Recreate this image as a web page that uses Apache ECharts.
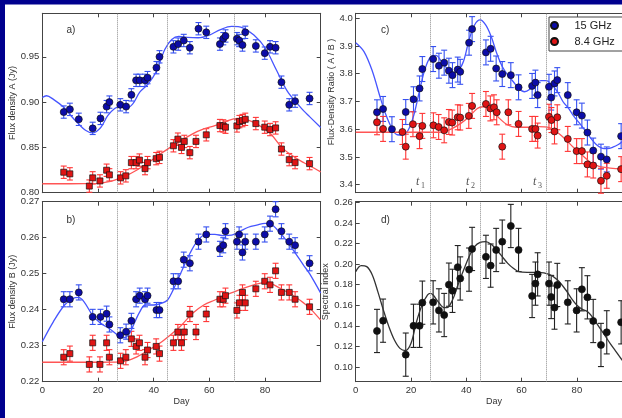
<!DOCTYPE html>
<html>
<head>
<meta charset="utf-8">
<script src="https://cdn.jsdelivr.net/npm/echarts@6/dist/echarts.min.js"></script>
<style>html,body{margin:0;padding:0;background:#fff}#c{width:622px;height:418px}</style>
</head>
<body>
<div id="c"></div>
<script>
// ---------- data ----------
const days15 = [7.7, 9.9, 13.1, 18.1, 20.9, 23.1, 24.1, 28.0, 30.1, 32.0, 33.7, 35.0, 36.9, 37.8, 41.0, 42.1, 47.1, 48.8, 50.8, 53.0, 56.1, 58.9, 63.8, 65.0, 65.8, 69.9, 70.7, 71.9, 72.9, 76.7, 79.9, 81.8, 83.8, 85.9, 88.7, 90.8, 96.0];
const days84 = [7.7, 9.9, 16.9, 18.1, 20.7, 23.1, 24.1, 28.1, 30.0, 32.0, 33.7, 34.9, 36.9, 37.8, 40.9, 42.1, 47.1, 48.7, 50.0, 51.0, 53.0, 55.2, 58.9, 63.8, 65.0, 65.8, 69.9, 70.8, 71.9, 72.9, 76.7, 79.9, 81.8, 83.8, 85.9, 88.7, 90.8, 96.0];

const fluxA15 = [0.889, 0.892, 0.881, 0.871, 0.882, 0.895, 0.900, 0.897, 0.895, 0.908, 0.924, 0.924, 0.924, 0.927, 0.938, 0.950, 0.961, 0.964, 0.968, 0.960, 0.981, 0.977, 0.964, 0.970, 0.973, 0.970, 0.968, 0.963, 0.977, 0.962, 0.954, 0.961, 0.960, 0.922, 0.897, 0.901, 0.904];
const fluxA84 = [0.8226, 0.8208, 0.8073, 0.8164, 0.813, 0.8248, 0.8197, 0.8164, 0.8186, 0.8332, 0.8332, 0.836, 0.8266, 0.8332, 0.8376, 0.839, 0.8518, 0.8591, 0.850, 0.8566, 0.8442, 0.8566, 0.8639, 0.8741, 0.8737, 0.8723, 0.8737, 0.8785, 0.8796, 0.881, 0.8763, 0.8723, 0.8697, 0.8715, 0.8482, 0.8365, 0.8332, 0.8321];
const fluxB15 = [0.2429, 0.2429, 0.2448, 0.2380, 0.2380, 0.2389, 0.2359, 0.2329, 0.2339, 0.2369, 0.2429, 0.2439, 0.2429, 0.2439, 0.2399, 0.2399, 0.2479, 0.2479, 0.2539, 0.2529, 0.2589, 0.2609, 0.2569, 0.2579, 0.2618, 0.2589, 0.2609, 0.2559, 0.2589, 0.2589, 0.2609, 0.2639, 0.2679, 0.2618, 0.2589, 0.2579, 0.2529];
const fluxB84 = [0.2268, 0.2278, 0.2248, 0.2308, 0.2248, 0.2308, 0.2268, 0.2258, 0.2268, 0.2319, 0.2298, 0.2308, 0.2268, 0.2288, 0.2298, 0.2278, 0.2308, 0.2338, 0.2308, 0.2338, 0.2388, 0.2338, 0.2388, 0.2429, 0.2429, 0.2439, 0.2398, 0.2419, 0.2448, 0.2419, 0.2458, 0.2479, 0.2469, 0.2508, 0.2448, 0.2448, 0.2429, 0.2408];
const ratio15 = [3.661, 3.673, 3.600, 3.662, 3.708, 3.747, 3.817, 3.853, 3.829, 3.840, 3.811, 3.795, 3.815, 3.807, 3.912, 3.961, 3.877, 3.890, 3.819, 3.799, 3.795, 3.751, 3.756, 3.768, 3.723, 3.753, 3.714, 3.765, 3.777, 3.723, 3.661, 3.649, 3.588, 3.523, 3.501, 3.491, 3.575];
const ratio84 = [3.625, 3.601, 3.590, 3.537, 3.618, 3.575, 3.612, 3.614, 3.608, 3.596, 3.626, 3.624, 3.643, 3.642, 3.648, 3.684, 3.691, 3.675, 3.679, 3.661, 3.537, 3.661, 3.619, 3.601, 3.601, 3.577, 3.645, 3.633, 3.592, 3.643, 3.565, 3.521, 3.521, 3.473, 3.469, 3.414, 3.432, 3.456];
const specDays = [7.7, 9.9, 18.1, 20.9, 23.1, 24.1, 28.0, 30.1, 32.0, 33.7, 35.0, 36.9, 37.8, 41.0, 42.1, 47.1, 48.8, 50.8, 53.0, 56.1, 58.9, 63.8, 65.0, 65.8, 69.9, 70.7, 71.9, 72.9, 76.7, 79.9, 81.8, 83.8, 85.9, 88.7, 90.8, 96.0];
const specIdx = [0.135, 0.145, 0.112, 0.140, 0.140, 0.1625, 0.1628, 0.155, 0.1505, 0.180, 0.174, 0.197, 0.186, 0.1946, 0.2147, 0.207, 0.1985, 0.2137, 0.2218, 0.237, 0.2137, 0.169, 0.181, 0.190, 0.181, 0.168, 0.1577, 0.1797, 0.1628, 0.155, 0.1755, 0.1677, 0.1447, 0.1214, 0.1337, 0.1434];

const errA = 0.0068, errB = 0.0021, errC = 0.045, errD = 0.021;

// fitted curves
const fitA15Days = [0, 1.5, 4, 7.8, 10, 13, 15.5, 18, 21, 23.5, 26, 28, 30, 32.5, 35, 38, 41, 44, 46.5, 49, 52, 56, 60, 64, 68, 72, 76, 80, 84, 88, 92, 94, 96, 100];
const fitA15 = [0.905, 0.907, 0.903, 0.894, 0.886, 0.876, 0.869, 0.866, 0.872, 0.885, 0.893, 0.895, 0.893, 0.898, 0.911, 0.920, 0.934, 0.958, 0.969, 0.9725, 0.9715, 0.971, 0.974, 0.980, 0.9835, 0.982, 0.974, 0.960, 0.936, 0.912, 0.897, 0.890, 0.884, 0.872];
const fitA84Days = [0, 10, 20, 22, 26, 30, 34, 38, 42, 46, 50, 54, 58, 62, 66, 70, 74, 78, 82, 86, 90, 94, 96, 100];
const fitA84 = [0.8099, 0.8099, 0.810, 0.811, 0.814, 0.8186, 0.825, 0.833, 0.842, 0.850, 0.8577, 0.865, 0.8704, 0.874, 0.8788, 0.882, 0.880, 0.874, 0.865, 0.850, 0.8405, 0.833, 0.8298, 0.823];
const fitB15Days = [0, 4, 8, 11, 13, 15, 18, 21, 24, 27, 29, 31, 33, 35, 37, 40, 43, 45, 47, 50, 53, 56, 59, 62, 65, 68, 71, 74, 77, 80, 82, 85, 88, 91, 94, 96, 100];
const fitB15 = [0.2311, 0.2367, 0.2413, 0.2431, 0.2434, 0.2422, 0.2385, 0.2362, 0.2348, 0.2330, 0.2322, 0.2330, 0.2362, 0.2394, 0.2413, 0.2413, 0.2418, 0.2427, 0.2455, 0.2506, 0.2556, 0.2594, 0.2609, 0.2609, 0.2606, 0.2607, 0.2618, 0.2629, 0.2635, 0.2640, 0.2638, 0.2617, 0.2589, 0.2556, 0.2522, 0.2500, 0.2446];
const fitB84Days = [0, 10, 20, 28, 30, 34, 38, 42, 46, 50, 54, 58, 62, 66, 70, 74, 78, 80, 82, 86, 90, 94, 96, 100];
const fitB84 = [0.2254, 0.2254, 0.2254, 0.2255, 0.2257, 0.2269, 0.2287, 0.2306, 0.2330, 0.2357, 0.2390, 0.2413, 0.2427, 0.2441, 0.2453, 0.2464, 0.2473, 0.2475, 0.2473, 0.2457, 0.2440, 0.2418, 0.2405, 0.2371];
const fitC15Days = [0, 3, 6, 9, 11, 13, 15, 17, 19, 21, 23, 25, 27, 29, 31, 33, 35, 37, 39, 41, 43, 45, 47, 49, 51, 53, 55, 57, 59, 61, 63, 65, 67, 69, 71, 73, 75, 77, 79, 81, 83, 85, 87, 89, 91, 93, 95, 97, 100];
const fitC15 = [3.912, 3.880, 3.810, 3.710, 3.650, 3.605, 3.580, 3.579, 3.597, 3.650, 3.735, 3.815, 3.860, 3.866, 3.845, 3.820, 3.805, 3.810, 3.845, 3.922, 3.976, 3.994, 3.976, 3.934, 3.874, 3.826, 3.795, 3.771, 3.747, 3.735, 3.744, 3.765, 3.775, 3.775, 3.759, 3.735, 3.699, 3.675, 3.645, 3.621, 3.595, 3.568, 3.545, 3.532, 3.530, 3.535, 3.545, 3.560, 3.590];
const fitC84Days = [0, 10, 20, 30, 32, 35, 38, 41, 44, 46, 48, 50, 52, 55, 58, 62, 66, 70, 73, 76, 79, 82, 85, 88, 92, 96, 100];
const fitC84 = [3.589, 3.589, 3.589, 3.589, 3.591, 3.603, 3.621, 3.645, 3.675, 3.681, 3.678, 3.663, 3.639, 3.615, 3.607, 3.607, 3.609, 3.606, 3.588, 3.562, 3.532, 3.505, 3.480, 3.466, 3.460, 3.458, 3.458];
const fitDDays = [0, 2, 4, 6, 8, 10, 12, 14, 16, 18, 20, 22, 24, 26, 27, 28, 30, 32, 33, 35, 37, 39, 41, 43, 45, 47, 49, 51, 53, 55, 57, 59, 62, 66, 70, 73, 76, 78, 80, 82, 84, 86, 88, 90, 92, 94, 96, 100];
const fitD = [0.1926, 0.1985, 0.1975, 0.1894, 0.1732, 0.1554, 0.1392, 0.1262, 0.1181, 0.1159, 0.123, 0.144, 0.1602, 0.170, 0.1716, 0.170, 0.1628, 0.1577, 0.1577, 0.165, 0.180, 0.194, 0.2072, 0.217, 0.2211, 0.2218, 0.2192, 0.2137, 0.2072, 0.2007, 0.1959, 0.1926, 0.192, 0.192, 0.190, 0.1845, 0.1748, 0.1667, 0.160, 0.156, 0.1535, 0.147, 0.139, 0.1311, 0.123, 0.1155, 0.108, 0.095];

const tDays = [27, 45, 69];
const xTicks = [0, 20, 40, 60, 80];
const yTicksA = [0.80, 0.85, 0.90, 0.95];
const yTicksB = [0.22, 0.23, 0.24, 0.25, 0.26, 0.27];
const yTicksC = [3.4, 3.5, 3.6, 3.7, 3.8, 3.9, 4.0];
const yTicksD = [0.10, 0.12, 0.14, 0.16, 0.18, 0.20, 0.22, 0.24, 0.26];

// ---------- styling ----------
const AX = '#444', TXT = '#333';
const BLUE_M = '#0c0ca8', BLUE_E = '#3550f0', BLUE_L = '#4655ff';
const RED_M = '#e01414', RED_E = '#ff3535', RED_L = '#ff5555';
const FONT = 'Liberation Sans, Arial, sans-serif';

const pairs = (xs, ys) => xs.map((x, i) => [x, ys[i]]);

function xAxes(g, withLabels) {
  const line = {show: true, onZero: false, lineStyle: {color: AX, width: 1}};
  return [
    {gridIndex: g, type: 'value', min: 0, max: 100, axisLine: line,
     axisTick: {show: true, inside: true, length: 4, customValues: xTicks, lineStyle: {color: AX}},
     axisLabel: {show: withLabels, customValues: xTicks, fontSize: 9.5, color: TXT, margin: 4, fontFamily: FONT},
     splitLine: {show: false},
     name: withLabels ? 'Day' : '', nameLocation: 'middle', nameGap: 15,
     nameTextStyle: {fontSize: 9, color: TXT, fontFamily: FONT}},
    {gridIndex: g, type: 'value', position: 'top', min: 0, max: 100, axisLine: line,
     axisTick: {show: true, inside: true, length: 4, customValues: xTicks, lineStyle: {color: AX}},
     axisLabel: {show: false}, splitLine: {show: false}}
  ];
}
function yAxes(g, min, max, ticks, dec, name, gap, pad) {
  const line = {show: true, onZero: false, lineStyle: {color: AX, width: 1}};
  return [
    {gridIndex: g, type: 'value', min: min, max: max, axisLine: line,
     axisTick: {show: true, inside: true, length: 4, customValues: ticks, lineStyle: {color: AX}},
     axisLabel: {customValues: ticks, formatter: v => v.toFixed(dec), fontSize: 9.5, color: TXT, margin: 3, fontFamily: FONT},
     splitLine: {show: false},
     name: name, nameLocation: 'middle', nameGap: gap,
     nameTextStyle: {fontSize: 9, color: TXT, fontFamily: FONT, padding: pad || 0}},
    {gridIndex: g, type: 'value', position: 'right', min: min, max: max, axisLine: line,
     axisTick: {show: true, inside: true, length: 4, customValues: ticks, lineStyle: {color: AX}},
     axisLabel: {show: false}, splitLine: {show: false}}
  ];
}

function errSeries(g, xs, ys, err, color) {
  return {
    type: 'custom', name: 'err' + g + color, xAxisIndex: 2 * g, yAxisIndex: 2 * g, z: 3, silent: true,
    data: xs.map((x, i) => [x, ys[i] - err, ys[i] + err]),
    encode: {x: 0, y: [1, 2]},
    renderItem: function (params, api) {
      const lo = api.coord([api.value(0), api.value(1)]);
      const hi = api.coord([api.value(0), api.value(2)]);
      const w = 3, st = {stroke: color, lineWidth: 1.1};
      return {type: 'group', children: [
        {type: 'line', shape: {x1: lo[0], y1: lo[1], x2: hi[0], y2: hi[1]}, style: st},
        {type: 'line', shape: {x1: lo[0] - w, y1: lo[1], x2: lo[0] + w, y2: lo[1]}, style: st},
        {type: 'line', shape: {x1: hi[0] - w, y1: hi[1], x2: hi[0] + w, y2: hi[1]}, style: st}
      ]};
    }
  };
}
function scatterSeries(g, name, xs, ys, fill, symbol, size) {
  return {
    type: 'scatter', name: name, xAxisIndex: 2 * g, yAxisIndex: 2 * g, z: 5,
    symbol: symbol, symbolSize: size, data: pairs(xs, ys),
    itemStyle: {color: fill, borderColor: '#111', borderWidth: 0.7, opacity: 1}
  };
}
function fitSeries(g, name, xs, ys, color, withMarks) {
  const s = {
    type: 'line', name: name, xAxisIndex: 2 * g, yAxisIndex: 2 * g, z: 4,
    data: pairs(xs, ys), smooth: 0.35, showSymbol: false, symbol: 'none',
    lineStyle: {color: color, width: 1.3}, silent: true
  };
  if (withMarks) {
    s.markLine = {silent: true, symbol: 'none', label: {show: false},
      lineStyle: {type: 'dotted', color: '#8a8a8a', width: 1},
      data: tDays.map(d => ({xAxis: d}))};
  }
  return s;
}

const chart = echarts.init(document.getElementById('c'), null, {renderer: 'canvas'});

const gridBase = {containLabel: false, outerBoundsMode: 'none'};
const option = {
  animation: false,
  backgroundColor: '#ffffff',
  textStyle: {fontFamily: FONT},
  grid: [
    Object.assign({left: 42.3, right: 301.3, top: 13.3, bottom: 225.3}, gridBase),   // a
    Object.assign({left: 42.3, right: 301.3, top: 201.7, bottom: 36.3}, gridBase),   // b
    Object.assign({left: 355.7, right: -10.2, top: 13.3, bottom: 225.3}, gridBase),  // c
    Object.assign({left: 355.7, right: -10.2, top: 201.7, bottom: 36.3}, gridBase)   // d
  ],
  xAxis: [].concat(xAxes(0, false), xAxes(1, true), xAxes(2, false), xAxes(3, true)),
  yAxis: [].concat(
    yAxes(0, 0.80, 0.998, yTicksA, 2, 'Flux density A (Jy)', 21),
    yAxes(1, 0.22, 0.27, yTicksB, 2, 'Flux density B (Jy)', 21),
    yAxes(2, 3.371, 4.018, yTicksC, 1, 'Flux-Density Ratio ( A / B )', 18, [0, 0, 0, 22]),
    yAxes(3, 0.0857, 0.2606, yTicksD, 2, 'Spectral index', 23)
  ),
  legend: {
    left: 549, top: 17, orient: 'vertical', selectedMode: false,
    data: [{name: '15 GHz', icon: 'circle'}, {name: '8.4 GHz', icon: 'circle'}],
    itemWidth: 30, itemHeight: 7, itemGap: 5, padding: [3, 40, 4, 1],
    borderColor: '#444', borderWidth: 1, backgroundColor: '#fff',
    textStyle: {fontSize: 11, color: '#222', fontFamily: FONT}
  },
  series: [
    // panel a
    fitSeries(0, 'fitA15', fitA15Days, fitA15, BLUE_L, true),
    fitSeries(0, 'fitA84', fitA84Days, fitA84, RED_L, false),
    errSeries(0, days15, fluxA15, errA, BLUE_E),
    errSeries(0, days84, fluxA84, errA, RED_E),
    scatterSeries(0, 'A 15 GHz', days15, fluxA15, BLUE_M, 'circle', 7),
    scatterSeries(0, 'A 8.4 GHz', days84, fluxA84, RED_M, 'rect', 6),
    // panel b
    fitSeries(1, 'fitB15', fitB15Days, fitB15, BLUE_L, true),
    fitSeries(1, 'fitB84', fitB84Days, fitB84, RED_L, false),
    errSeries(1, days15, fluxB15, errB, BLUE_E),
    errSeries(1, days84, fluxB84, errB, RED_E),
    scatterSeries(1, 'B 15 GHz', days15, fluxB15, BLUE_M, 'circle', 7),
    scatterSeries(1, 'B 8.4 GHz', days84, fluxB84, RED_M, 'rect', 6),
    // panel c
    fitSeries(2, 'fitC15', fitC15Days, fitC15, BLUE_L, true),
    fitSeries(2, 'fitC84', fitC84Days, fitC84, RED_L, false),
    errSeries(2, days15, ratio15, errC, BLUE_E),
    errSeries(2, days84, ratio84, errC, RED_E),
    scatterSeries(2, '15 GHz', days15, ratio15, BLUE_M, 'circle', 7),
    scatterSeries(2, '8.4 GHz', days84, ratio84, RED_M, 'circle', 7),
    // panel d
    fitSeries(3, 'fitD', fitDDays, fitD, '#333333', true),
    errSeries(3, specDays, specIdx, errD, '#222222'),
    scatterSeries(3, 'alpha', specDays, specIdx, '#111111', 'circle', 7)
  ],
  graphic: [
    {type: 'rect', shape: {x: 0, y: 0, width: 622, height: 4.5}, style: {fill: '#00008e'}, z: 100, silent: true},
    {type: 'rect', shape: {x: 0, y: 0, width: 5, height: 418}, style: {fill: '#00008e'}, z: 100, silent: true},
    {type: 'text', left: 66.5, top: 25.5, style: {text: 'a)', fontSize: 10, fill: TXT, fontFamily: FONT}, silent: true},
    {type: 'text', left: 66.5, top: 215, style: {text: 'b)', fontSize: 10, fill: TXT, fontFamily: FONT}, silent: true},
    {type: 'text', left: 381, top: 25.5, style: {text: 'c)', fontSize: 10, fill: TXT, fontFamily: FONT}, silent: true},
    {type: 'text', left: 381, top: 215, style: {text: 'd)', fontSize: 10, fill: TXT, fontFamily: FONT}, silent: true},
    {type: 'text', left: 416, top: 175.5, style: {text: 't', fontSize: 12, fontStyle: 'italic', fill: '#555', fontFamily: 'Liberation Serif, serif'}, silent: true},
    {type: 'text', left: 421, top: 182, style: {text: '1', fontSize: 8, fill: '#555', fontFamily: 'Liberation Serif, serif'}, silent: true},
    {type: 'text', left: 466, top: 175.5, style: {text: 't', fontSize: 12, fontStyle: 'italic', fill: '#555', fontFamily: 'Liberation Serif, serif'}, silent: true},
    {type: 'text', left: 471, top: 182, style: {text: '2', fontSize: 8, fill: '#555', fontFamily: 'Liberation Serif, serif'}, silent: true},
    {type: 'text', left: 533, top: 175.5, style: {text: 't', fontSize: 12, fontStyle: 'italic', fill: '#555', fontFamily: 'Liberation Serif, serif'}, silent: true},
    {type: 'text', left: 538, top: 182, style: {text: '3', fontSize: 8, fill: '#555', fontFamily: 'Liberation Serif, serif'}, silent: true}
  ]
};
chart.setOption(option);
</script>
</body>
</html>
